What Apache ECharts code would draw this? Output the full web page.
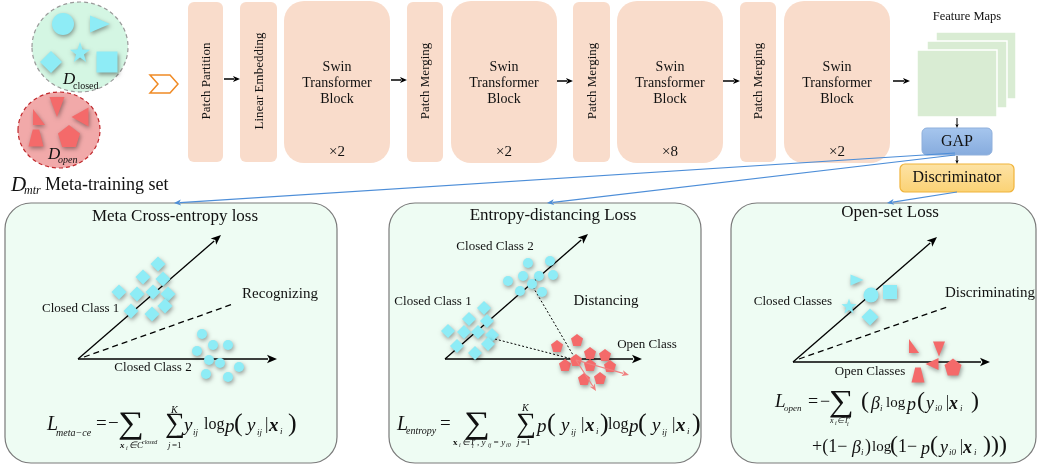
<!DOCTYPE html>
<html><head><meta charset="utf-8">
<script src="https://cdn.jsdelivr.net/npm/echarts@6/dist/echarts.min.js"></script>
<style>html,body{margin:0;padding:0;background:#fff}#c{width:1038px;height:470px}</style>
</head><body><div id="c"></div><script>
// ---------- data (diagram coordinates, pixel space) ----------
const dClosedCircle = [[63,24]];
const dClosedTri = [[100,24]];
const dClosedStar = [[80,52]];
const dClosedDiamond = [[51,62]];
const dClosedSquare = [[107,62]];
const dOpenDownTri = [[57,107]];
const dOpenLeftTri = [[80,117]];
const dOpenCornerTri = [[39,117]];
const dOpenTrap = [[36,138]];
const dOpenPent = [[69,136]];

const metaClass1 = [[158,264],[143,277],[163,279],[119,292],[137,294],[153,292],[168,294],[165,306],[131,311],[152,314]];
const metaClass2 = [[202,334],[213,345],[228,345],[197,351],[209,360],[220,363],[239,367],[206,374],[228,377]];

const entClass2 = [[528,263],[550,261],[508,281],[523,276],[539,276],[553,275],[532,284],[520,291],[542,292]];
const entClass1 = [[484,308],[469,319],[487,321],[448,331],[464,332],[478,332],[492,335],[457,346],[475,353],[488,344]];
const entOpen = [[577,340],[557,346],[590,353],[605,355],[565,365],[576,360],[590,365],[610,366],[584,379],[600,378]];

const osTri = [[857,280]];
const osCircle = [[871,295]];
const osSquare = [[890,292]];
const osStar = [[849,306]];
const osDiamond = [[870,317]];
const osCornerTri = [[914,346]];
const osDownTri = [[939,349]];
const osLeftTri = [[932,364]];
const osPent = [[953,367]];
const osTrap = [[918,375]];

const pipelineNarrow = [
  {name:'Patch Partition', x:188, w:35},
  {name:'Linear Embedding', x:240, w:37},
  {name:'Patch Merging', x:407, w:36},
  {name:'Patch Merging', x:573, w:37},
  {name:'Patch Merging', x:740, w:36}
];
const swinBlocks = [{x:284, rep:'×2'},{x:451, rep:'×2'},{x:617, rep:'×8'},{x:784, rep:'×2'}];

// ---------- styles ----------
const FONT = "'Liberation Serif', 'Times New Roman', serif";
const CYAN = '#8eecf6';
const RED = '#f46a6a';
const PEACH = '#f9dccb';
const SHADOW = {shadowBlur:4, shadowColor:'rgba(0,0,0,0.38)', shadowOffsetX:1, shadowOffsetY:2};

const P_PENT = 'path://M0,-10 L9.5,-3.1 L5.9,8.1 L-5.9,8.1 L-9.5,-3.1 Z';
const P_STAR = 'path://M0,-10 L2.35,-3.24 L9.51,-3.09 L3.8,1.24 L5.88,8.09 L0,4 L-5.88,8.09 L-3.8,1.24 L-9.51,-3.09 L-2.35,-3.24 Z';
const P_TRAP = 'path://M-3,-8 L3,-8 L7,8 L-7,8 Z';
const P_CORNER = 'path://M0,0 L0,10 L8,10 Z';
const P_RIGHT = 'path://M0,0 L12,5 L0,10 Z';
const P_DOWN = 'path://M0,0 L10,0 L5,12 Z';
const P_LEFT = 'path://M12,0 L0,6 L12,12 Z';

function sc(data, symbol, size, color){
  return {type:'scatter', coordinateSystem:'cartesian2d', data:data, symbol:symbol, symbolSize:size,
    silent:true, z:3, itemStyle:Object.assign({color:color, opacity:1}, SHADOW)};
}

const series = [
  sc(dClosedCircle,'circle',22,CYAN), sc(dClosedTri,P_RIGHT,[20,17],CYAN), sc(dClosedStar,P_STAR,20,CYAN),
  sc(dClosedDiamond,'diamond',[22,22],CYAN), sc(dClosedSquare,'rect',21,CYAN),
  sc(dOpenDownTri,P_DOWN,[15,20],RED), sc(dOpenLeftTri,P_LEFT,[17,19],RED), sc(dOpenCornerTri,P_CORNER,[12,16],RED),
  sc(dOpenTrap,P_TRAP,[15,17],RED), sc(dOpenPent,P_PENT,22,RED),
  sc(metaClass1,'diamond',[15,15],CYAN), sc(metaClass2,'circle',10,CYAN),
  sc(entClass2,'circle',10,CYAN), sc(entClass1,'diamond',[14,14],CYAN), sc(entOpen,P_PENT,12,RED),
  sc(osTri,P_RIGHT,[13,11],CYAN), sc(osCircle,'circle',15,CYAN), sc(osSquare,'rect',14,CYAN),
  sc(osStar,P_STAR,15,CYAN), sc(osDiamond,'diamond',[17,17],CYAN),
  sc(osCornerTri,P_CORNER,[10,14],RED), sc(osDownTri,P_DOWN,[12,15],RED), sc(osLeftTri,P_LEFT,[13,12],RED),
  sc(osPent,P_PENT,17,RED), sc(osTrap,P_TRAP,[13,15],RED)
];

// ---------- graphic helpers ----------
const G = [];
function txt(x,y,text,size,style,opt){
  opt = opt||{};
  const st = style||'';
  const italic = st.indexOf('i')>=0 ? 'italic ' : '';
  const bold = st.indexOf('b')>=0 ? 'bold ' : '';
  const sc = opt.scale||[1,1];
  G.push({type:'text', x:x, y:y, rotation:opt.rot||0, scaleX:sc[0], scaleY:sc[1], z:opt.z||6, silent:true,
    style:{x:0,y:0,text:text, font: italic+bold+size+'px '+FONT, fill:opt.fill||'#111',
      textAlign:opt.align||'left', textVerticalAlign:'middle'}});
}
function arrow(x1,y1,x2,y2,color,width,head,opt){
  opt = opt||{};
  const dx=x2-x1, dy=y2-y1, L=Math.sqrt(dx*dx+dy*dy), ux=dx/L, uy=dy/L;
  const bx=x2-ux*head, by=y2-uy*head, hw=head*0.42;
  G.push({type:'line', z:opt.z||2, silent:true, shape:{x1:x1,y1:y1,x2:bx+ux*1,y2:by+uy*1},
    style:{stroke:color, lineWidth:width, lineDash:opt.dash||null}});
  if(head>0) G.push({type:'polygon', z:opt.z||2, silent:true,
    shape:{points:[[x2,y2],[bx-uy*hw,by+ux*hw],[bx+ux*head*0.25,by+uy*head*0.25],[bx+uy*hw,by-ux*hw]]},
    style:{fill:color}});
}
function line(x1,y1,x2,y2,color,width,dash){
  G.push({type:'line', z:2, silent:true, shape:{x1:x1,y1:y1,x2:x2,y2:y2}, style:{stroke:color,lineWidth:width,lineDash:dash||null}});
}
function formula(pieces){ pieces.forEach(p=>txt(p[1],p[2],p[0],p[3],p[4],{scale:p[5]})); }
const BIG = [1.3,1.12];

// ---------- meta-training sets ----------
G.push({type:'ellipse', z:0, silent:true, shape:{cx:80,cy:47,rx:48,ry:45}, style:{fill:'#d4f6e3',stroke:'#9a9a9a',lineWidth:1.2,lineDash:[4,3]}});
G.push({type:'ellipse', z:0, silent:true, shape:{cx:59,cy:130,rx:41,ry:38}, style:{fill:'#f1a9a9',stroke:'#c0282c',lineWidth:1.2,lineDash:[4,3]}});
txt(63,80,'D',17,'i'); txt(73,86,'closed',10,'');
txt(48,155,'D',17,'i'); txt(58,160,'open',10,'i');
txt(11,185,'D',21,'i'); txt(24,191,'mtr',12,'i'); txt(45,185,'Meta-training set',18,'');
G.push({type:'polygon', z:1, silent:true, shape:{points:[[150,75],[170,75],[178,84],[170,93],[150,93],[158,84]]},
  style:{fill:'#fff',stroke:'#f08a24',lineWidth:1.5}});

// ---------- pipeline ----------
pipelineNarrow.forEach(b=>{
  G.push({type:'rect', z:0, silent:true, shape:{x:b.x,y:2,width:b.w,height:160,r:6}, style:{fill:PEACH}});
  txt(b.x+b.w/2+1, 81, b.name, 13, '', {rot:Math.PI/2, align:'center'});
});
swinBlocks.forEach(b=>{
  G.push({type:'rect', z:0, silent:true, shape:{x:b.x,y:1,width:106,height:162,r:20}, style:{fill:PEACH}});
  const cx=b.x+53;
  txt(cx,67,'Swin',14,'',{align:'center'});
  txt(cx,83,'Transformer',14,'',{align:'center'});
  txt(cx,99,'Block',14,'',{align:'center'});
  txt(cx,152,b.rep,15,'',{align:'center'});
});
[[224,79,240],[391,80,407],[557,81,573],[723,81,740],[893,81,910]].forEach(a=>arrow(a[0],a[1],a[2],a[1],'#000',1.5,7));

// feature maps
[[936,32],[927,41],[917,50]].forEach(p=>{
  G.push({type:'rect', z:1, silent:true, shape:{x:p[0],y:p[1],width:80,height:67}, style:{fill:'#d9ecd3',stroke:'#fff',lineWidth:1.5}});
});
txt(967,17,'Feature Maps',12.5,'',{align:'center'});
arrow(957,118,957,128,'#000',1,4);
G.push({type:'rect', z:1, silent:true, shape:{x:922,y:128,width:70,height:27,r:5},
  style:{fill:{type:'linear',x:0,y:0,x2:0,y2:1,colorStops:[{offset:0,color:'#a6c6ee'},{offset:1,color:'#86abdd'}]},stroke:'#8fb0dc',lineWidth:1}});
txt(957,142,'GAP',16,'',{align:'center'});
arrow(957,156,957,164,'#000',1,4);
G.push({type:'rect', z:1, silent:true, shape:{x:900,y:164,width:114,height:28,r:5},
  style:{fill:{type:'linear',x:0,y:0,x2:0,y2:1,colorStops:[{offset:0,color:'#fde3a6'},{offset:1,color:'#fbd274'}]},stroke:'#f0b33a',lineWidth:1.2}});
txt(957,178,'Discriminator',16,'',{align:'center'});

// blue connectors
arrow(955,153,174,203,'#4d8ed8',1.2,7,{z:1});
arrow(955,155,547,203,'#4d8ed8',1.2,7,{z:1});
arrow(957,192,887,203,'#4d8ed8',1.2,7,{z:1});

// ---------- panels ----------
[[5,332],[389,312],[731,305]].forEach(p=>{
  G.push({type:'rect', z:0, silent:true, shape:{x:p[0],y:203,width:p[1],height:260,r:26}, style:{fill:'#eefcf3',stroke:'#7a7a7a',lineWidth:1.2}});
});
// panel 1
txt(175,217,'Meta Cross-entropy loss',17,'',{align:'center'});
arrow(78,359,277,359,'#000',1.5,10);
arrow(78,359,221,235,'#000',1.3,10);
line(84,357,233,304,'#000',1.3,[6,4]);
txt(280,294,'Recognizing',15,'',{align:'center'});
txt(42,309,'Closed Class 1',13,'');
txt(153,368,'Closed Class 2',13,'',{align:'center'});
formula([['L',47,425,20,'i'],['meta−ce',56,433,10,'i'],['=',96,424,19,''],['−',108,424,19,''],['∑',118,425,28,'',BIG],
  ['x',120,446,9,'bi'],['i',126,448,6,'i'],['∈C',129,446,9,'i'],['closed',142,442,6,'i'],
  ['K',171,410,10,'i'],['∑',165,425,28,''],['j',168,446,9,'i'],['=1',172,446,9,''],
  ['y',184,426,19,'i'],['ij',193,433,9,'i'],['log',204,425,16,''],['p',225,427,19,'i'],['(',234,424,26,''],
  ['y',247,426,19,'i'],['ij',257,433,9,'i'],['|',265,425,17,''],['x',269,426,19,'bi'],['i',280,432,9,'i'],[')',288,424,26,'']]);

// panel 2
txt(553,216,'Entropy-distancing Loss',17,'',{align:'center'});
arrow(445,359,642,359,'#000',1.5,10);
arrow(445,359,588,234,'#000',1.3,10);
line(495,339,576,360,'#000',1,[2,2]);
line(533,287,576,360,'#000',1,[2,2]);
arrow(576,360,629,375,'#f08080',1.2,7,{z:5});
arrow(576,360,596,391,'#f08080',1.2,7,{z:5});
txt(495,247,'Closed Class 2',13,'',{align:'center'});
txt(433,302,'Closed Class 1',13,'',{align:'center'});
txt(606,301,'Distancing',15,'',{align:'center'});
txt(647,345,'Open Class',13,'',{align:'center'});
formula([['L',397,425,20,'i'],['entropy',406,431,10,'i'],['=',440,424,19,''],['∑',464,425,28,'',BIG],
  ['x',453,443,9,'b'],['i',459,445,6,'i'],['∈T',462,443,9,'i'],['i',472,446,6,'i'],['tr',472,439,6,'i'],
  [', y',477,443,9,'i'],['ij',488,445,6,'i'],['= y',493,443,9,'i'],['i0',506,445,6,'i'],
  ['K',522,408,10,'i'],['∑',516,425,28,''],['j',517,443,9,'i'],['=1',521,443,9,''],
  ['p',537,427,19,'i'],['(',547,424,26,''],['y',561,426,19,'i'],['ij',571,433,9,'i'],['|',581,425,17,''],
  ['x',585,426,19,'bi'],['i',596,432,9,'i'],[')',600,424,26,''],['log',608,425,16,''],['p',629,427,19,'i'],
  ['(',638,424,26,''],['y',652,426,19,'i'],['ij',662,433,9,'i'],['|',672,425,17,''],['x',676,426,19,'bi'],
  ['i',687,432,9,'i'],[')',692,424,26,'']]);

// panel 3
txt(890,213,'Open-set Loss',17,'',{align:'center'});
arrow(793,362,990,362,'#000',1.5,10);
arrow(793,362,937,237,'#000',1.3,10);
line(799,359,947,307,'#000',1.3,[6,4]);
txt(990,293,'Discriminating',15,'',{align:'center'});
txt(793,302,'Closed Classes',13,'',{align:'center'});
txt(870,372,'Open Classes',13,'',{align:'center'});
formula([['L',775,402,19,'i'],['open',784,409,9,'i'],['=',808,402,18,''],['−',820,402,18,''],['∑',829,403,27,'',BIG],
  ['x',830,421,8,'i'],['i',835,423,6,'i'],['∈T',837,421,8,'i'],['i',847,424,6,'i'],['tr',847,417,6,'i'],
  ['(',861,402,24,''],['β',871,404,18,'i'],['i',880,409,9,'i'],['log',886,403,15,''],['p',907,405,18,'i'],
  ['(',917,402,24,''],['y',926,404,18,'i'],['i0',935,409,9,'i'],['|',946,403,16,''],['x',949,404,18,'bi'],
  ['i',960,409,9,'i'],[')',971,402,24,''],
  ['+(1−',812,447,18,''],['β',852,448,18,'i'],['i',861,453,9,'i'],[')',865,447,18,''],['log',872,447,15,''],
  ['(',890,446,24,''],['1−',898,447,18,''],['p',921,449,18,'i'],['(',930,446,24,''],['y',940,448,18,'i'],
  ['i0',949,453,9,'i'],['|',960,447,16,''],['x',963,448,18,'bi'],['i',974,453,9,'i'],[')))',983,446,24,'']]);

const chart = echarts.init(document.getElementById('c'), null, {renderer:'canvas'});
chart.setOption({
  animation:false,
  backgroundColor:'#ffffff',
  grid:{left:0,right:0,top:0,bottom:0},
  xAxis:{type:'value',min:0,max:1038,show:false},
  yAxis:{type:'value',min:0,max:470,inverse:true,show:false},
  graphic:{elements:G},
  series:series
});
</script></body></html>
